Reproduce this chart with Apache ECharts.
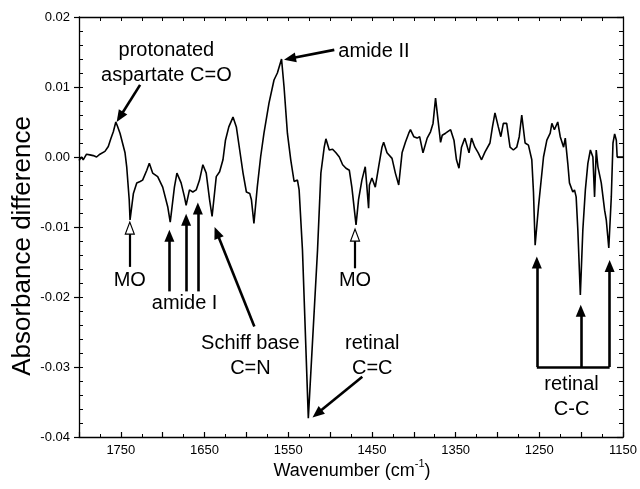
<!DOCTYPE html>
<html><head><meta charset="utf-8">
<script src="https://cdn.jsdelivr.net/npm/echarts@6/dist/echarts.min.js"></script>
<style>html,body{margin:0;padding:0;background:#fff}#c{width:640px;height:489px}</style>
</head><body><div id="c"></div>
<script>
// ---- data ----
const wavenumber = [
 1800,1799,1797,1795,1791,1787,1783,1779,1775,1769,
 1765,1762,1759,1756,1754,1751,1745,1743,1740,1739,
 1735,1731,1727,1724,1719,1716,1712,1706,1700,1694,
 1691,1686,1683,1678,1674,1672,1668,1664,1660,1656,
 1652,1648,1644,1641,1636,1632,1628,1625,1621,1616,
 1612,1608,1604,1600,1596,1594,1591,1587,1583,1579,
 1573,1567,1563,1558,1555,1551,1547,1543,1539,1537,
 1533,1526,1515,1511,1507,1505,1501,1497,1493,1489,
 1485,1481,1477,1474,1469,1466,1462,1458,1456,1454,
 1453,1450,1446,1442,1438,1436,1432,1426,1422,1418,
 1414,1410,1406,1404,1400,1396,1393,1389,1384,1380,
 1377,1374,1372,1368,1366,1362,1356,1352,1349,1346,
 1343,1339,1334,1331,1327,1323,1319,1315,1309,1306,
 1303,1299,1296,1293,1289,1285,1281,1277,1274,1271,
 1267,1263,1259,1257,1255,1251,1245,1241,1237,1235,
 1232,1228,1225,1221,1219,1216,1214,1210,1208,1206,
 1204,1201,1198,1195,1192,1189,1186,1184,1182,1180,
 1176,1172,1170,1167,1164,1162,1160,1158,1157,1150
];
const absorbance = [
 -0.0005,-0.0007,0.0000,-0.0004,0.0004,0.0003,0.0002,0.0000,0.0004,0.0008,
 0.0015,0.0026,0.0036,0.0050,0.0044,0.0034,0.0006,-0.0014,-0.0061,-0.0090,
 -0.0052,-0.0037,-0.0035,-0.0033,-0.0019,-0.0009,-0.0023,-0.0028,-0.0043,-0.0071,
 -0.0093,-0.0043,-0.0023,-0.0037,-0.0057,-0.0069,-0.0047,-0.0050,-0.0047,-0.0033,
 -0.0011,-0.0023,-0.0061,-0.0085,-0.0028,-0.0021,-0.0004,0.0024,0.0043,0.0057,
 0.0043,0.0010,-0.0023,-0.0050,-0.0052,-0.0061,-0.0095,-0.0043,0.0000,0.0034,
 0.0077,0.0110,0.0120,0.0140,0.0100,0.0034,-0.0004,-0.0035,-0.0033,-0.0047,
 -0.0133,-0.0373,-0.0133,-0.0023,0.0014,0.0026,0.0010,0.0011,0.0006,0.0000,
 -0.0011,-0.0016,-0.0019,-0.0043,-0.0097,-0.0061,-0.0033,-0.0014,-0.0043,-0.0073,
 -0.0040,-0.0030,-0.0043,-0.0014,0.0014,0.0021,0.0006,-0.0002,-0.0023,-0.0040,
 0.0006,0.0021,0.0034,0.0039,0.0029,0.0027,0.0029,0.0006,0.0027,0.0036,
 0.0048,0.0084,0.0063,0.0021,0.0031,0.0034,0.0039,0.0024,-0.0004,-0.0016,
 0.0014,0.0027,0.0006,0.0027,0.0014,0.0006,-0.0004,0.0007,0.0020,0.0043,
 0.0063,0.0043,0.0029,0.0048,0.0048,0.0014,0.0010,0.0014,0.0029,0.0060,
 0.0020,0.0017,-0.0004,-0.0050,-0.0126,-0.0071,0.0000,0.0024,0.0034,0.0048,
 0.0039,0.0050,0.0029,0.0014,0.0027,-0.0009,-0.0037,-0.0050,-0.0047,-0.0057,
 -0.0104,-0.0197,-0.0104,-0.0047,-0.0009,0.0010,0.0000,-0.0057,0.0010,-0.0014,
 -0.0037,-0.0076,-0.0090,-0.0130,-0.0057,0.0020,0.0033,0.0024,0.0000,0.0000
];
const xTickLabels = [1750, 1650, 1550, 1450, 1350, 1250, 1150];
const yTickLabels = ['0.02', '0.01', '0.00', '-0.01', '-0.02', '-0.03', '-0.04'];

// ---- annotations (data coordinates) ----
const labelTexts = ['protonated\naspartate C=O', 'amide II', 'MO', 'amide I', 'Schiff base\nC=N', 'MO', 'retinal\nC=C', 'retinal\nC-C'];
const labelAt = [[1695.6, 0.01343], [1447.6, 0.01504], [1739.3, -0.01757], [1673.8, -0.0209],
                 [1595.2, -0.0284], [1470.2, -0.01757], [1449.6, -0.0284], [1211.5, -0.03424]];
const arrowFrom = [[1727, 0.0103], [1495, 0.0153], [1692, -0.0192], [1672, -0.0192], [1658, -0.0192],
                   [1590.5, -0.0242], [1461.5, -0.0314], [1253, -0.0300], [1200.5, -0.0300], [1166, -0.0300]];
const arrowTo   = [[1755, 0.0050], [1555, 0.0139], [1692, -0.0104], [1672, -0.0081], [1658, -0.0065],
                   [1638, -0.0100], [1521, -0.0372], [1253, -0.0142], [1200.5, -0.0211], [1166, -0.0147]];
const hollowFrom = [[1739.3, -0.0157], [1470.2, -0.0159]];
const hollowTo   = [[1739.3, -0.0093], [1470.2, -0.0103]];
const bracket = [[1253, -0.0300], [1166, -0.0300]];

const FONT = 'Liberation Sans, Arial, Helvetica, sans-serif';
const PX_X = 546 / 650, PX_Y = 420 / 0.06;
function pullBack(from, to, d) {
  const dx = (to[0] - from[0]) * PX_X, dy = (to[1] - from[1]) * PX_Y;
  const r = d / Math.hypot(dx, dy);
  return [to[0] - (to[0] - from[0]) * r, to[1] - (to[1] - from[1]) * r];
}

const spectrum = wavenumber.map((w, i) => [w, absorbance[i]]);

const lines = [];
lines.push([{ yAxis: 0, lineStyle: { type: [2, 3], width: 1, color: '#000' }, symbol: 'none' }, { yAxis: 0, symbol: 'none' }]);
arrowFrom.forEach((f, i) => {
  const t = pullBack(f, arrowTo[i], 6);
  lines.push([{ coord: f, symbol: 'none', lineStyle: { width: 2.6, color: '#000', type: 'solid' } },
              { coord: t, symbol: 'triangle', symbolSize: [10, 12] }]);
});
hollowFrom.forEach((f, i) => {
  const t = pullBack(f, hollowTo[i], 12);
  lines.push([{ coord: f, symbol: 'none', lineStyle: { width: 2.2, color: '#000', type: 'solid' } },
              { coord: t, symbol: 'none' }]);
});
lines.push([{ coord: bracket[0], symbol: 'none', lineStyle: { width: 2.6, color: '#000', type: 'solid' } },
            { coord: bracket[1], symbol: 'none' }]);

const points = [];
labelTexts.forEach((txt, i) => {
  points.push({ coord: labelAt[i], symbol: 'circle', symbolSize: 0,
    label: { show: true, position: 'inside', formatter: txt, color: '#000', fontSize: 20,
             fontFamily: FONT, lineHeight: 25, align: 'center' } });
});
hollowTo.forEach(t => {
  points.push({ coord: t, symbol: 'triangle', symbolSize: [9, 12], symbolOffset: [0, '50%'],
    itemStyle: { color: '#fff', borderColor: '#000', borderWidth: 1.2 }, label: { show: false } });
});

const axisLineStyle = { color: '#000', width: 1.3 };
const chart = echarts.init(document.getElementById('c'), null, { renderer: 'canvas' });
chart.setOption({
  animation: false,
  backgroundColor: '#fff',
  grid: { left: 79, right: 15, top: 17, bottom: 52 },
  xAxis: [{
    type: 'value', position: 'bottom', min: 1150, max: 1800, interval: 50, inverse: true,
    axisLine: { show: true, onZero: false, lineStyle: axisLineStyle },
    axisTick: { show: true, inside: true, length: 5, lineStyle: { color: '#000', width: 1.2 } },
    minorTick: { show: true, splitNumber: 2, length: 3, lineStyle: { color: '#000', width: 1 } },
    axisLabel: { formatter: v => xTickLabels.includes(Math.round(v)) ? String(Math.round(v)) : '',
                 color: '#000', fontSize: 13, fontFamily: FONT, margin: 7, showMinLabel: true, showMaxLabel: true },
    splitLine: { show: false }
  }, {
    type: 'value', position: 'top', min: 1150, max: 1800, interval: 25, inverse: true,
    axisLine: { show: true, onZero: false, lineStyle: axisLineStyle },
    axisTick: { show: true, inside: true, length: 4, lineStyle: { color: '#000', width: 1 } },
    axisLabel: { show: false }, splitLine: { show: false }
  }],
  yAxis: [{
    type: 'value', position: 'left', min: -0.04, max: 0.02, interval: 0.01,
    axisLine: { show: true, onZero: false, lineStyle: axisLineStyle },
    axisTick: { show: true, inside: false, length: 5, lineStyle: { color: '#000', width: 1.2 } },
    axisLabel: { formatter: v => { const s = (Math.round(v * 100) / 100).toFixed(2); return yTickLabels.includes(s) ? s : ''; },
                 color: '#000', fontSize: 13, fontFamily: FONT, margin: 9 },
    splitLine: { show: false }
  }, {
    type: 'value', position: 'left', min: -0.04, max: 0.02, interval: 0.002,
    axisLine: { show: false }, axisLabel: { show: false }, splitLine: { show: false },
    axisTick: { show: true, inside: true, length: 4, lineStyle: { color: '#000', width: 1 } }
  }, {
    type: 'value', position: 'right', min: -0.04, max: 0.02, interval: 0.01,
    axisLine: { show: true, onZero: false, lineStyle: axisLineStyle },
    axisTick: { show: true, inside: true, length: 6, lineStyle: { color: '#000', width: 1.2 } },
    minorTick: { show: true, splitNumber: 5, length: 4, lineStyle: { color: '#000', width: 1 } },
    axisLabel: { show: false }, splitLine: { show: false }
  }],
  series: [{
    type: 'line', xAxisIndex: 0, yAxisIndex: 0, data: spectrum, showSymbol: false, symbol: 'none',
    lineStyle: { color: '#000', width: 1.6 }, silent: true, z: 3,
    markLine: { silent: true, symbol: ['none', 'none'], label: { show: false }, emphasis: { disabled: true },
                lineStyle: { color: '#000' }, itemStyle: { color: '#000' }, data: lines, animation: false },
    markPoint: { silent: true, data: points, animation: false }
  }],
  graphic: [{
    type: 'text', x: 23, y: 246, rotation: Math.PI / 2,
    style: { text: 'Absorbance difference', fontSize: 26, fontFamily: FONT, fill: '#000', align: 'center', verticalAlign: 'middle' }
  }, {
    type: 'text', x: 352, y: 469,
    style: { text: '{m|Wavenumber (cm}{s|-1}{m|)}', fill: '#000', align: 'center', verticalAlign: 'middle',
      rich: { m: { fontSize: 18, fontFamily: FONT, fill: '#000', lineHeight: 22, verticalAlign: 'bottom' },
              s: { fontSize: 11, fontFamily: FONT, fill: '#000', lineHeight: 14, verticalAlign: 'top' } } }
  }]
});
</script></body></html>
